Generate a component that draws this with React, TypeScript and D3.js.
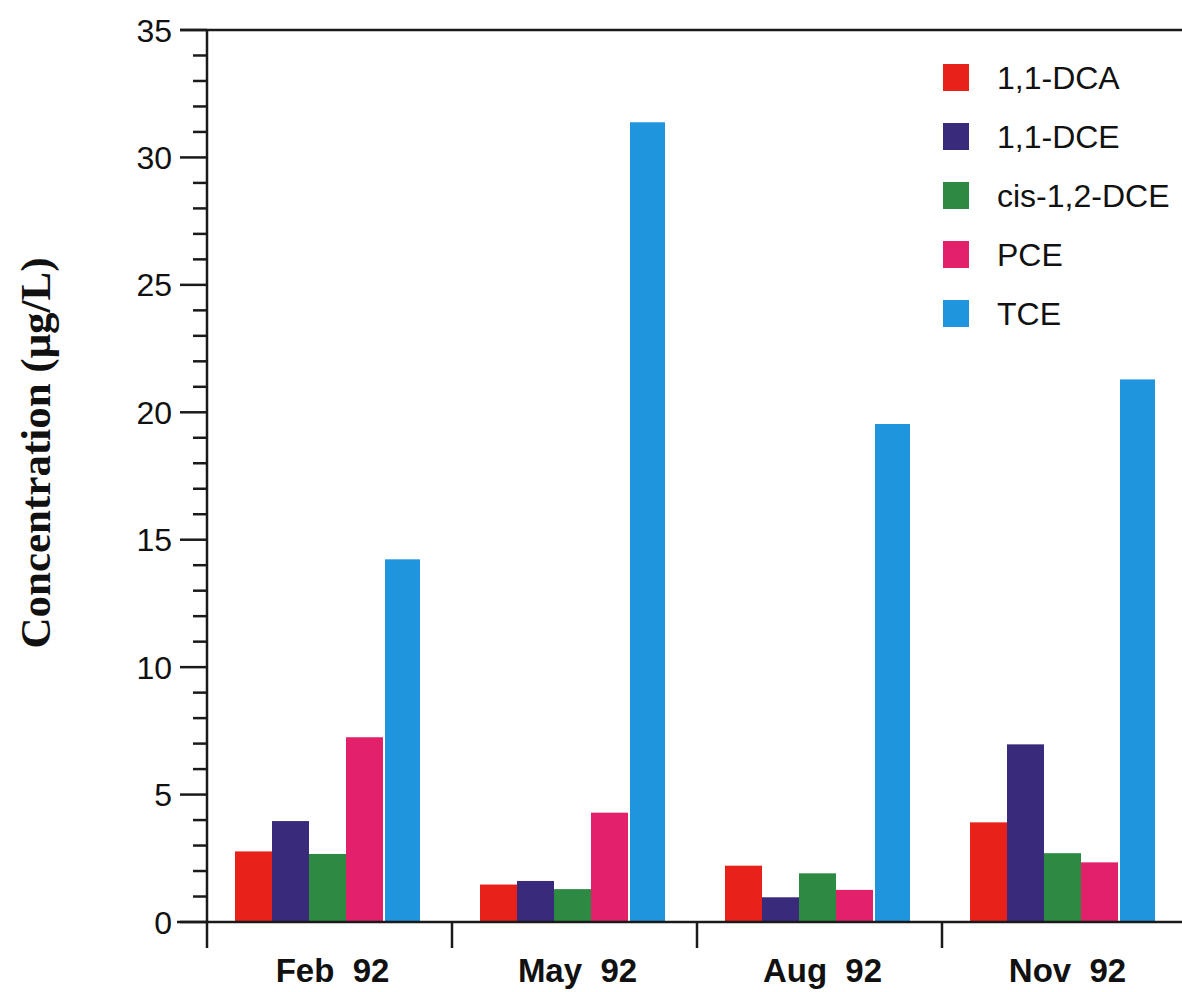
import React from "react";
import * as d3 from "d3";

const categories = ["Feb  92", "May  92", "Aug  92", "Nov  92"];
const seriesNames = ["1,1-DCA", "1,1-DCE", "cis-1,2-DCE", "PCE", "TCE"];
const dca11 = [2.77, 1.47, 2.21, 3.91];
const dce11 = [3.96, 1.61, 0.97, 6.97];
const cisDce = [2.67, 1.29, 1.91, 2.7];
const pce = [7.25, 4.29, 1.26, 2.34];
const tce = [14.23, 31.38, 19.54, 21.29];
const seriesValues = [dca11, dce11, cisDce, pce, tce];
const seriesColors = ["#e8221a", "#3a2a7c", "#2c8a42", "#e3216b", "#1f95de"];
const yTicks = [0, 5, 10, 15, 20, 25, 30, 35];
const yMinorTicks = d3.range(0, 36, 1);

export default function App() {
  const W = 1182;
  const H = 992;
  const axisX = 207;
  const y = d3.scaleLinear().domain([0, 35]).range([922, 30]);
  const x = d3.scaleBand<string>().domain(categories).range([axisX, axisX + 4 * 245]).padding(0);
  const inner = d3.scaleBand<string>().domain(seriesNames).range([28, 28 + 5 * 37]).padding(0);
  const boundaries = categories.slice(1).map((c) => x(c) as number);
  const stroke = "#1a1a1a";
  const sans = "'Liberation Sans', Arial, Helvetica, sans-serif";

  return (
    <svg width={W} height={H} style={{ position: "absolute", left: 0, top: 0, background: "#fff" }}>
      {/* bars */}
      {categories.map((c, ci) => (
        <g key={c}>
          {seriesNames.map((s, si) => {
            const v = seriesValues[si][ci];
            const bx = (x(c) as number) + (inner(s) as number);
            const isLast = si === seriesNames.length - 1;
            const bw = inner.bandwidth();
            return (
              <rect
                key={s}
                x={isLast ? bx + 2 : bx}
                y={y(v)}
                width={isLast ? bw - 2 : bw}
                height={y(0) - y(v)}
                fill={seriesColors[si]}
              />
            );
          })}
        </g>
      ))}

      {/* frame lines */}
      <line x1={180} x2={W} y1={y(35)} y2={y(35)} stroke={stroke} strokeWidth={2.5} />
      <line x1={177} x2={W} y1={y(0)} y2={y(0)} stroke={stroke} strokeWidth={2.5} />
      <line x1={axisX} x2={axisX} y1={y(35)} y2={948} stroke={stroke} strokeWidth={2.5} />
      {boundaries.map((b) => (
        <line key={b} x1={b} x2={b} y1={y(0)} y2={948} stroke={stroke} strokeWidth={2.5} />
      ))}

      {/* y ticks */}
      {yMinorTicks.map((t) => (
        <line
          key={"m" + t}
          x1={t % 5 === 0 ? 180 : 193}
          x2={axisX}
          y1={y(t)}
          y2={y(t)}
          stroke={stroke}
          strokeWidth={2.5}
        />
      ))}
      {yTicks.map((t) => (
        <text
          key={"l" + t}
          x={172}
          y={y(t)}
          dy="0.36em"
          textAnchor="end"
          fontFamily={sans}
          fontSize={32}
          fill="#111"
        >
          {t}
        </text>
      ))}

      {/* x labels */}
      {categories.map((c) => (
        <text
          key={"x" + c}
          x={(x(c) as number) + x.bandwidth() / 2 + 3}
          y={982}
          textAnchor="middle"
          fontFamily={sans}
          fontWeight="bold"
          fontSize={33}
          fill="#111"
          style={{ whiteSpace: "pre" }}
        >
          {c}
        </text>
      ))}

      {/* y axis title */}
      <text
        transform={`translate(50, ${453}) rotate(-90)`}
        textAnchor="middle"
        fontFamily="'Liberation Serif', 'Times New Roman', serif"
        fontWeight="bold"
        fontSize={43}
        fill="#111"
      >
        Concentration (μg/L)
      </text>

      {/* legend */}
      {seriesNames.map((s, i) => {
        const cy = 77 + i * 59;
        return (
          <g key={"lg" + s}>
            <rect x={943} y={cy - 13} width={26} height={27} fill={seriesColors[i]} />
            <text x={997} y={cy} dy="0.36em" fontFamily={sans} fontSize={32} fill="#111">
              {s}
            </text>
          </g>
        );
      })}
    </svg>
  );
}
